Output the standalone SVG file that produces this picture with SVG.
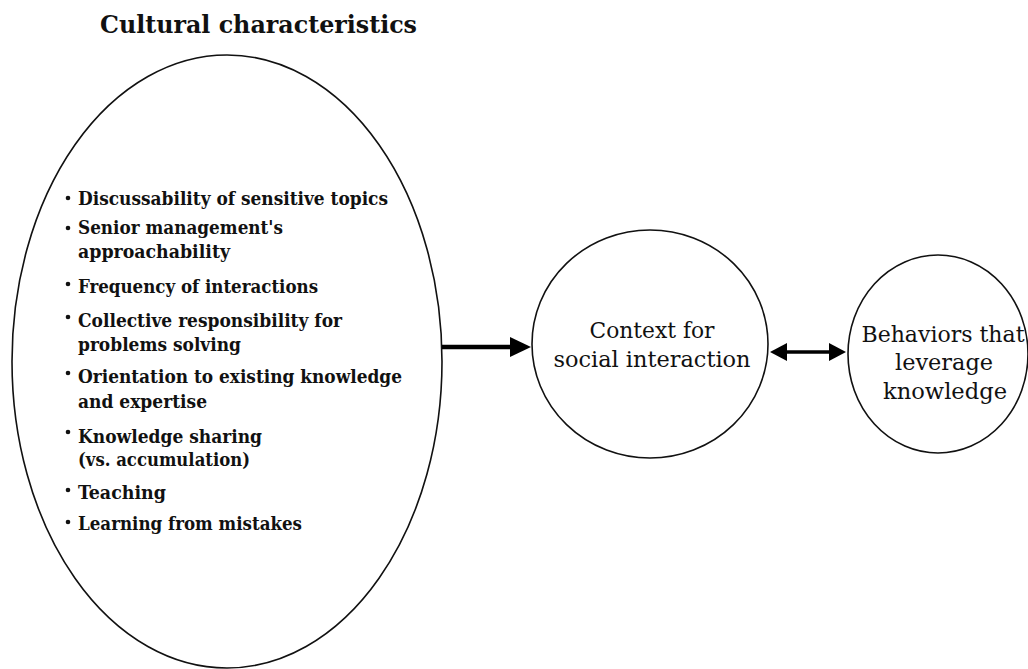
<svg xmlns="http://www.w3.org/2000/svg" width="1028" height="669" viewBox="0 0 1028 669">
<style>
.shape{fill:none;stroke:#111;stroke-width:1.6}
.title{font-family:"DejaVu Serif Condensed","DejaVu Serif",serif;font-weight:bold;font-size:25px;fill:#111}
.item{font-family:"DejaVu Serif Condensed","DejaVu Serif",serif;font-weight:bold;font-size:18px;fill:#111}
.label{font-family:"DejaVu Serif Condensed","DejaVu Serif",serif;font-size:22px;fill:#111;text-anchor:middle}
.dot{fill:#111}
.conn{stroke:#000;fill:none}
</style>
<defs>
<marker id="headBig" viewBox="0 0 21 20" markerWidth="21" markerHeight="20" refX="1" refY="10" markerUnits="userSpaceOnUse" orient="auto">
<path d="M0,0 L21,10 L0,20 z" fill="#000"/>
</marker>
<marker id="headSmall" viewBox="0 0 17 18" markerWidth="17" markerHeight="18" refX="1" refY="9" markerUnits="userSpaceOnUse" orient="auto-start-reverse">
<path d="M0,0 L17,9 L0,18 z" fill="#000"/>
</marker>
</defs>
<rect width="1028" height="669" fill="#fff"/>
<g id="cultural">
<text class="title" x="100" y="33" textLength="317" lengthAdjust="spacingAndGlyphs">Cultural characteristics</text>
<ellipse class="shape" cx="227" cy="361.5" rx="215" ry="306.5"/>
<circle class="dot" cx="68" cy="198" r="2.3"/>
<circle class="dot" cx="68" cy="228" r="2.3"/>
<circle class="dot" cx="68" cy="284" r="2.3"/>
<circle class="dot" cx="68" cy="317" r="2.3"/>
<circle class="dot" cx="68" cy="373" r="2.3"/>
<circle class="dot" cx="68" cy="432" r="2.3"/>
<circle class="dot" cx="68" cy="490" r="2.3"/>
<circle class="dot" cx="68" cy="522" r="2.3"/>
<text class="item" x="78" y="205" textLength="310" lengthAdjust="spacingAndGlyphs">Discussability of sensitive topics</text>
<text class="item" x="78" y="234" textLength="205" lengthAdjust="spacingAndGlyphs">Senior management's</text>
<text class="item" x="78" y="258" textLength="152" lengthAdjust="spacingAndGlyphs">approachability</text>
<text class="item" x="78" y="293" textLength="240" lengthAdjust="spacingAndGlyphs">Frequency of interactions</text>
<text class="item" x="78" y="327" textLength="264" lengthAdjust="spacingAndGlyphs">Collective responsibility for</text>
<text class="item" x="78" y="351" textLength="163" lengthAdjust="spacingAndGlyphs">problems solving</text>
<text class="item" x="78" y="383" textLength="324" lengthAdjust="spacingAndGlyphs">Orientation to existing knowledge</text>
<text class="item" x="78" y="408" textLength="129" lengthAdjust="spacingAndGlyphs">and expertise</text>
<text class="item" x="78" y="443" textLength="184" lengthAdjust="spacingAndGlyphs">Knowledge sharing</text>
<text class="item" x="78" y="466" textLength="172" lengthAdjust="spacingAndGlyphs">(vs. accumulation)</text>
<text class="item" x="78" y="499" textLength="88" lengthAdjust="spacingAndGlyphs">Teaching</text>
<text class="item" x="78" y="530" textLength="224" lengthAdjust="spacingAndGlyphs">Learning from mistakes</text>
</g>
<g id="context">
<ellipse class="shape" cx="650" cy="344" rx="118" ry="114"/>
<text class="label" x="652" y="338" textLength="125" lengthAdjust="spacingAndGlyphs">Context for</text>
<text class="label" x="652" y="367" textLength="197" lengthAdjust="spacingAndGlyphs">social interaction</text>
</g>
<g id="behaviors">
<ellipse class="shape" cx="938" cy="354" rx="90" ry="99"/>
<text class="label" x="943" y="342" textLength="163" lengthAdjust="spacingAndGlyphs">Behaviors that</text>
<text class="label" x="944" y="370" textLength="98" lengthAdjust="spacingAndGlyphs">leverage</text>
<text class="label" x="945" y="399" textLength="124" lengthAdjust="spacingAndGlyphs">knowledge</text>
</g>
<g id="connectors">
<line class="conn" x1="442" y1="347" x2="511" y2="347" stroke-width="4.5" marker-end="url(#headBig)"/>
<line class="conn" x1="786" y1="352" x2="830" y2="352" stroke-width="3.5" marker-start="url(#headSmall)" marker-end="url(#headSmall)"/>
</g>
</svg>
